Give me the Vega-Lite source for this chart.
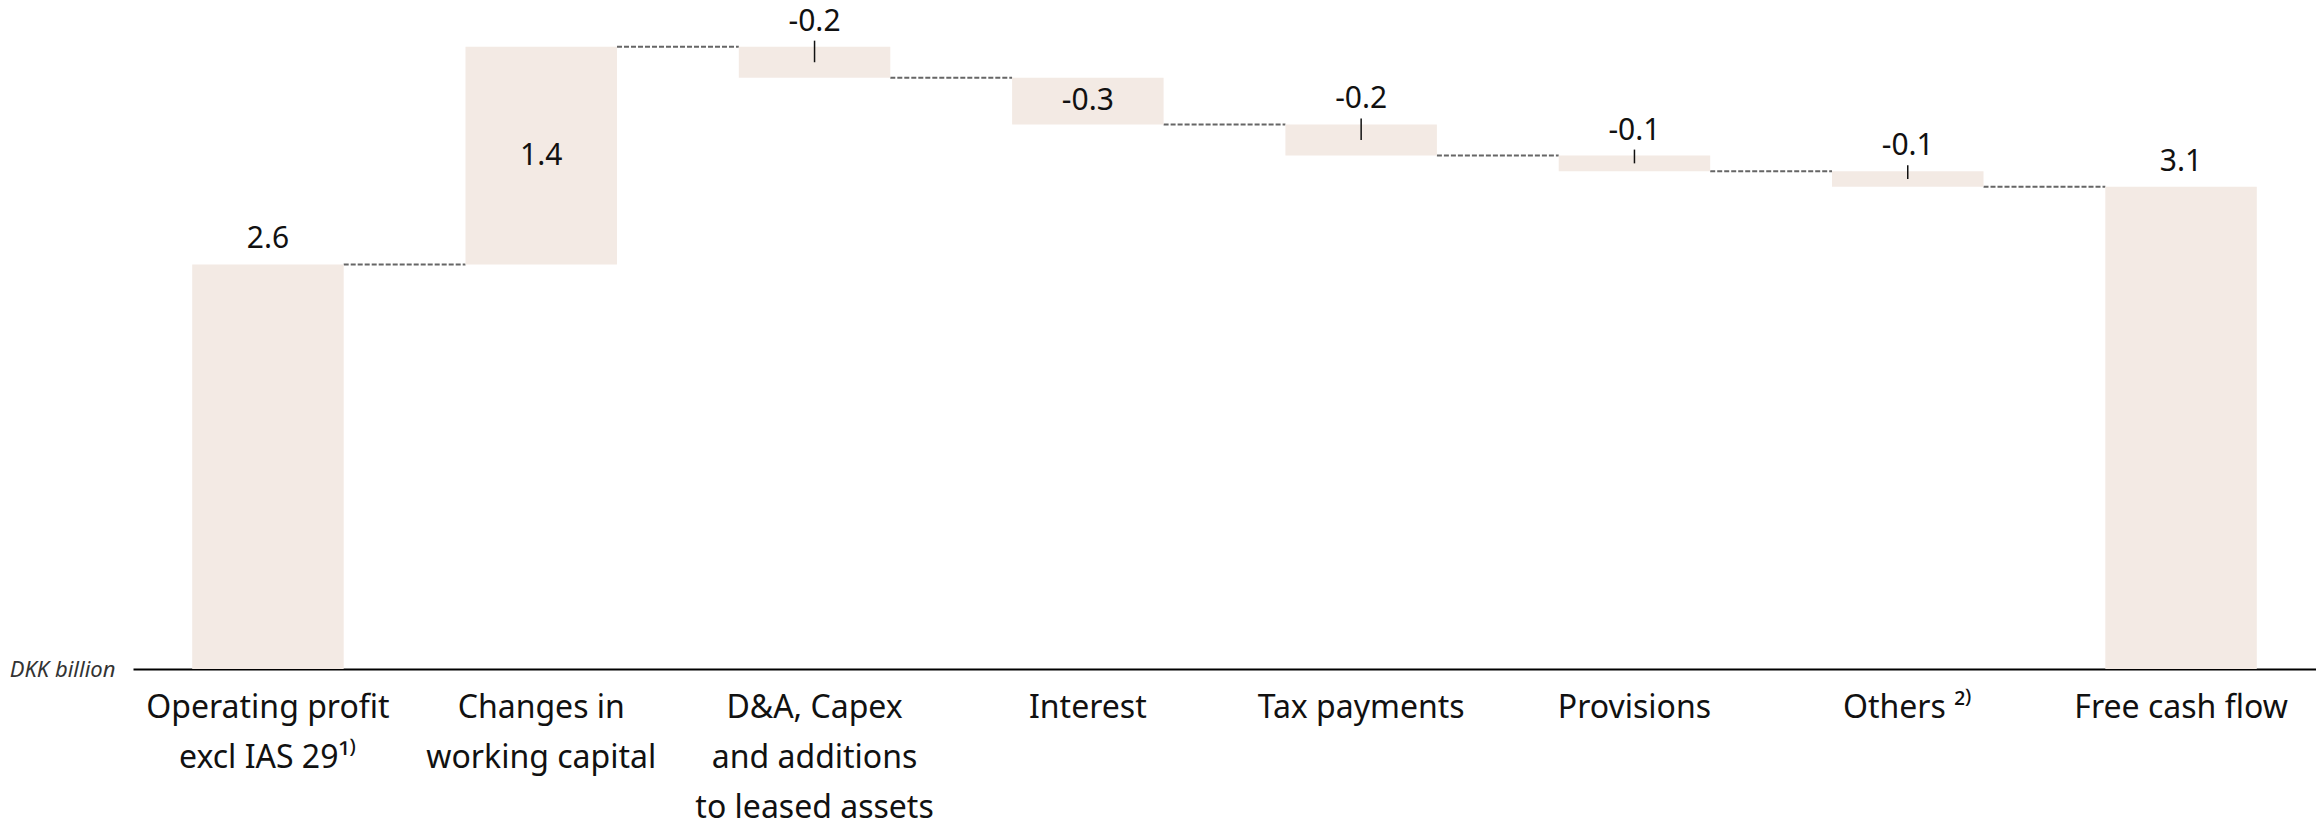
{
  "$schema": "https://vega.github.io/schema/vega-lite/v6.json",
  "autosize": "none",
  "width": 2183,
  "height": 669,
  "padding": {"left": 133, "top": 0, "right": 0, "bottom": 156},
  "background": "white",
  "config": {
    "view": {"stroke": null},
    "font": "Noto Sans",
    "text": {"font": "Noto Sans"}
  },
  "data": {
    "values": [
      {"step": "Operating profit\nexcl IAS 29¹⁾", "kind": "total", "value": 2.6, "start": 0, "end": 2.6},
      {"step": "Changes in\nworking capital", "kind": "delta", "value": 1.4, "start": 2.6, "end": 4.0},
      {"step": "D&A, Capex\nand additions\nto leased assets", "kind": "delta", "value": -0.2, "start": 4.0, "end": 3.8},
      {"step": "Interest", "kind": "delta", "value": -0.3, "start": 3.8, "end": 3.5},
      {"step": "Tax payments", "kind": "delta", "value": -0.2, "start": 3.5, "end": 3.3},
      {"step": "Provisions", "kind": "delta", "value": -0.1, "start": 3.3, "end": 3.2},
      {"step": "Others ²⁾", "kind": "delta", "value": -0.1, "start": 3.2, "end": 3.1},
      {"step": "Free cash flow", "kind": "total", "value": 3.1, "start": 0, "end": 3.1}
    ]
  },
  "transform": [
    {"calculate": "max(datum.start, datum.end)", "as": "top"},
    {"calculate": "(datum.start + datum.end) / 2", "as": "mid"},
    {"calculate": "(datum.value < 0 ? '-' : '') + format(abs(datum.value), '.1f')", "as": "valueText"}
  ],
  "encoding": {
    "x": {
      "field": "step",
      "type": "nominal",
      "sort": null,
      "scale": {"paddingInner": 0.4457, "paddingOuter": 0.2166},
      "axis": {
        "title": null,
        "domain": true,
        "domainColor": "#000000",
        "domainWidth": 2,
        "ticks": false,
        "labelAngle": 0,
        "labelFont": "Noto Sans",
        "labelFontSize": 32,
        "labelColor": "#111111",
        "labelLineHeight": 50,
        "labelPadding": 23,
        "labelLimit": 0,
        "labelBaseline": "top",
        "labelExpr": "split(datum.label, '\\n')"
      }
    }
  },
  "layer": [
    {
      "transform": [
        {"window": [{"op": "lead", "field": "step", "as": "nextStep"}]},
        {"filter": "datum.nextStep != null"}
      ],
      "mark": {"type": "rule", "color": "#666666", "strokeWidth": 2, "strokeDash": [5, 2], "xOffset": 75.75, "x2Offset": -75.75},
      "encoding": {
        "x2": {"field": "nextStep"},
        "y": {"field": "end", "type": "quantitative"}
      }
    },
    {
      "mark": {"type": "bar", "color": "#F3EAE4"},
      "encoding": {
        "y": {
          "field": "start",
          "type": "quantitative",
          "scale": {"domain": [0, 4.3], "nice": false, "zero": true},
          "axis": {
            "title": null,
            "values": [0],
            "labelExpr": "'DKK billion'",
            "labelFont": "Noto Sans",
            "labelFontSize": 22,
            "labelFontStyle": "italic",
            "labelColor": "#333333",
            "labelPadding": 18,
            "labelBaseline": "middle",
            "domain": false,
            "ticks": false,
            "grid": false
          }
        },
        "y2": {"field": "end"}
      }
    },
    {
      "transform": [{"filter": "datum.kind == 'delta' && abs(datum.value) < 0.25"}],
      "mark": {"type": "rule", "color": "#111111", "strokeWidth": 1.5, "y2Offset": -6},
      "encoding": {
        "y": {"field": "mid", "type": "quantitative"},
        "y2": {"field": "top"}
      }
    },
    {
      "transform": [{"filter": "datum.kind == 'total' || abs(datum.value) < 0.25"}],
      "mark": {"type": "text", "fontSize": 30, "color": "#111111", "baseline": "middle", "dy": -25},
      "encoding": {
        "y": {"field": "top", "type": "quantitative"},
        "text": {"field": "valueText"}
      }
    },
    {
      "transform": [{"filter": "datum.kind == 'delta' && abs(datum.value) >= 0.25"}],
      "mark": {"type": "text", "fontSize": 30, "color": "#111111", "baseline": "middle"},
      "encoding": {
        "y": {"field": "mid", "type": "quantitative"},
        "text": {"field": "valueText"}
      }
    }
  ]
}
